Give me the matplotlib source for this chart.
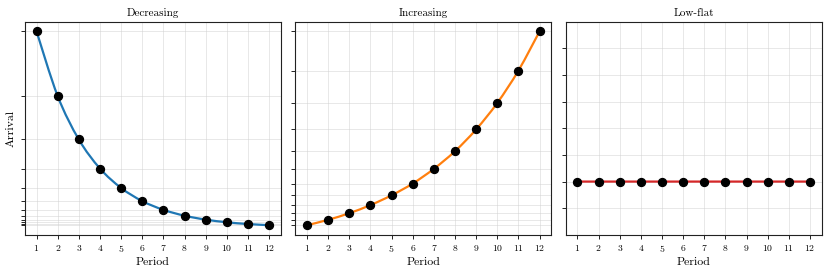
import matplotlib
matplotlib.use("Agg")
import matplotlib.pyplot as plt
from matplotlib.path import Path
from matplotlib.patches import PathPatch

plt.rcParams["font.family"] = "serif"
plt.rcParams["font.serif"] = ["cmr10", "DejaVu Serif"]
plt.rcParams["mathtext.fontset"] = "cm"
plt.rcParams["axes.formatter.use_mathtext"] = True

# データ
periods = [1, 2, 3, 4, 5, 6, 7, 8, 9, 10, 11, 12]
decreasing = [10.0, 6.70, 4.49, 3.01, 2.02, 1.35, 0.905, 0.606, 0.406, 0.272, 0.182, 0.122]
increasing = [1.0, 1.22, 1.49, 1.82, 2.22, 2.70, 3.30, 4.02, 4.91, 5.99, 7.31, 8.91]
low_flat = [1.0] * 12
low_flat_ylim = (0.0, 4.0)

titles = ["Decreasing", "Increasing", "Low-flat"]
series = [decreasing, increasing, low_flat]
colors = ["#1f77b4", "#ff7f0e", "#d62728"]


def smooth_path(xs, ys):
    # 点を通るベジェ曲線 (Catmull-Rom)
    pts = list(zip(xs, ys))
    n = len(pts)
    verts = [pts[0]]
    codes = [Path.MOVETO]
    for i in range(n - 1):
        p0 = pts[max(i - 1, 0)]
        p1 = pts[i]
        p2 = pts[i + 1]
        p3 = pts[min(i + 2, n - 1)]
        c1 = (p1[0] + (p2[0] - p0[0]) / 6, p1[1] + (p2[1] - p0[1]) / 6)
        c2 = (p2[0] - (p3[0] - p1[0]) / 6, p2[1] - (p3[1] - p1[1]) / 6)
        verts += [c1, c2, p2]
        codes += [Path.CURVE4] * 3
    return Path(verts, codes)


fig, axes = plt.subplots(1, 3, figsize=(8.3, 2.77), dpi=100)
fig.subplots_adjust(left=0.030, right=0.990, top=0.922, bottom=0.152, wspace=0.057)

for ax, title, ys, c in zip(axes, titles, series, colors):
    ax.add_patch(PathPatch(smooth_path(periods, ys), fill=False, edgecolor=c, lw=1.6, zorder=2))
    ax.plot(periods, ys, "o", color="black", ms=5.7, zorder=3)
    ax.set_title(title, fontsize=8, pad=4)
    ax.set_xlabel("Period", fontsize=8.5, labelpad=2)
    ax.set_xticks(periods)
    ax.tick_params(axis="x", labelsize=7, length=3, width=0.6, pad=3)
    ax.tick_params(axis="y", length=3, width=0.6, labelleft=False)
    ax.grid(True, color="#d0d0d0", lw=0.5, alpha=0.7)
    ax.set_axisbelow(True)
    for s in ax.spines.values():
        s.set_linewidth(0.8)
        s.set_color("#222222")
    if title == "Low-flat":
        ax.set_ylim(*low_flat_ylim)
        ax.set_yticks([0.5, 1.0, 1.5, 2.0, 2.5, 3.0, 3.5])
    else:
        ax.set_yticks(ys)

axes[0].set_ylabel("Arrival", fontsize=8.5, labelpad=4)

fig.savefig("out.png", dpi=100)
